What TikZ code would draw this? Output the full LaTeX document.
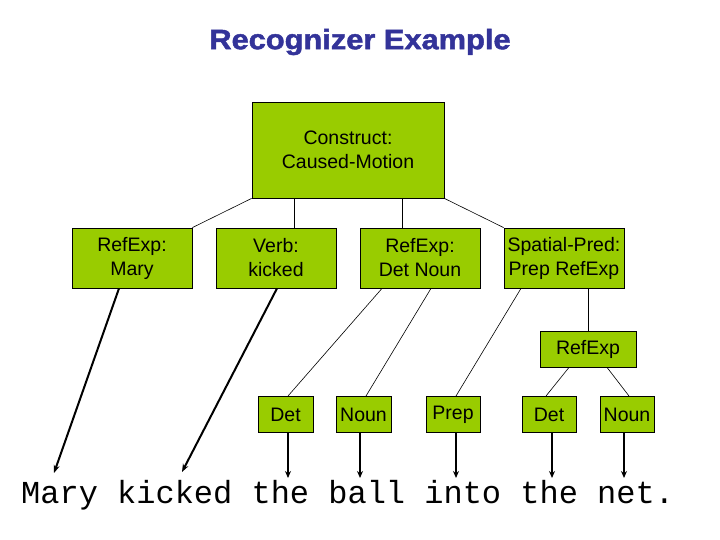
\documentclass[tikz,border=0pt]{standalone}
\usepackage{fontspec}
\setmainfont{Liberation Sans}
\newfontfamily\monofam{Liberation Mono}
\newfontfamily\titlefam[BoldFeatures={FakeBold=1.6}]{Liberation Sans}
\usetikzlibrary{arrows.meta,calc}
\definecolor{boxgreen}{HTML}{99CC00}
\definecolor{titleblue}{HTML}{333399}
\tikzset{
  box/.style={draw=black, fill=boxgreen, line width=0.8pt, inner sep=0pt, align=center,
    font=\fontsize{19.5}{24}\selectfont},
  thin/.style={line width=0.6pt},
  bigarrow/.style={line width=2pt, -{Stealth[length=8pt,width=6pt]}},
  downarrow/.style={line width=1.6pt, -{Stealth[length=7pt,width=6pt]}},
}
\begin{document}
\begin{tikzpicture}[x=1pt,y=-1pt]
\useasboundingbox (0,0) rectangle (720,540);
\node[font=\titlefam\fontsize{28}{32}\selectfont\bfseries, text=titleblue] (title) at (360,42) {\scalebox{1.1}[1]{Recognizer Example}};
\node[box, minimum width=192, minimum height=96] (top) at (348,150) {Construct:\\Caused-Motion};
\node[box, minimum width=120, minimum height=60] (mary) at (132,258) {RefExp:\\Mary};
\node[box, minimum width=120, minimum height=60] (verb) at (276,258) {Verb:\\kicked};
\node[box, minimum width=120, minimum height=60] (detnoun) at (420,258) {RefExp:\\Det Noun};
\node[box, minimum width=120, minimum height=60] (spatial) at (564,258) {Spatial-Pred:\\Prep RefExp};
\node[box, minimum width=96, minimum height=36] (refexp) at (588,349) {RefExp};
\node[box, minimum width=55, minimum height=36, anchor=north] (det1) at (285.5,396) {Det};
\node[box, minimum width=55, minimum height=36, anchor=north] (noun1) at (363.5,396) {Noun};
\node[box, minimum width=54, minimum height=36, anchor=north] (prep) at (453,396) {Prep};
\node[box, minimum width=54, minimum height=36, anchor=north] (det2) at (549,396) {Det};
\node[box, minimum width=54, minimum height=36, anchor=north] (noun2) at (627,396) {Noun};
\node[font=\monofam\fontsize{32}{36}\selectfont, anchor=base west, inner sep=0pt] (sent) at (21,503) {Mary kicked the ball into the net.};
% tree lines
\draw[thin] (top.south west) -- (mary.north east);
\draw[thin] ([xshift=18pt]verb.north) -- ([xshift=18pt]verb.north |- top.south);
\draw[thin] ([xshift=-18pt]detnoun.north) -- ([xshift=-18pt]detnoun.north |- top.south);
\draw[thin] (top.south east) -- (spatial.north west);
\draw[thin] (refexp.north) -- (refexp.north |- spatial.south);
\draw[thin] ([xshift=2.5pt]det1.north) -- ([xshift=-38pt]detnoun.south);
\draw[thin] ([xshift=2.5pt]noun1.north) -- ([xshift=11pt]detnoun.south);
\draw[thin] ([xshift=3pt]prep.north) -- ([xshift=-43pt]spatial.south);
\draw[thin] ([xshift=-3pt]det2.north) -- ([xshift=-19pt]refexp.south);
\draw[thin] ([xshift=2pt]noun2.north) -- ([xshift=19pt]refexp.south);
% arrows to words
\coordinate (w1) at (54,473);
\coordinate (w2) at (182,472);
\coordinate (w3) at (288,478);
\coordinate (w4) at (360,478);
\coordinate (w5) at (456,478);
\coordinate (w6) at (552,478);
\coordinate (w7) at (624,478);
\draw[bigarrow] ([xshift=-13pt]mary.south) -- (w1);
\draw[bigarrow] ([xshift=1pt]verb.south) -- (w2);
\draw[downarrow] (det1.south -| w3) -- (w3);
\draw[downarrow] (noun1.south -| w4) -- (w4);
\draw[downarrow] (prep.south -| w5) -- (w5);
\draw[downarrow] (det2.south -| w6) -- (w6);
\draw[downarrow] (noun2.south -| w7) -- (w7);
\end{tikzpicture}
\end{document}
